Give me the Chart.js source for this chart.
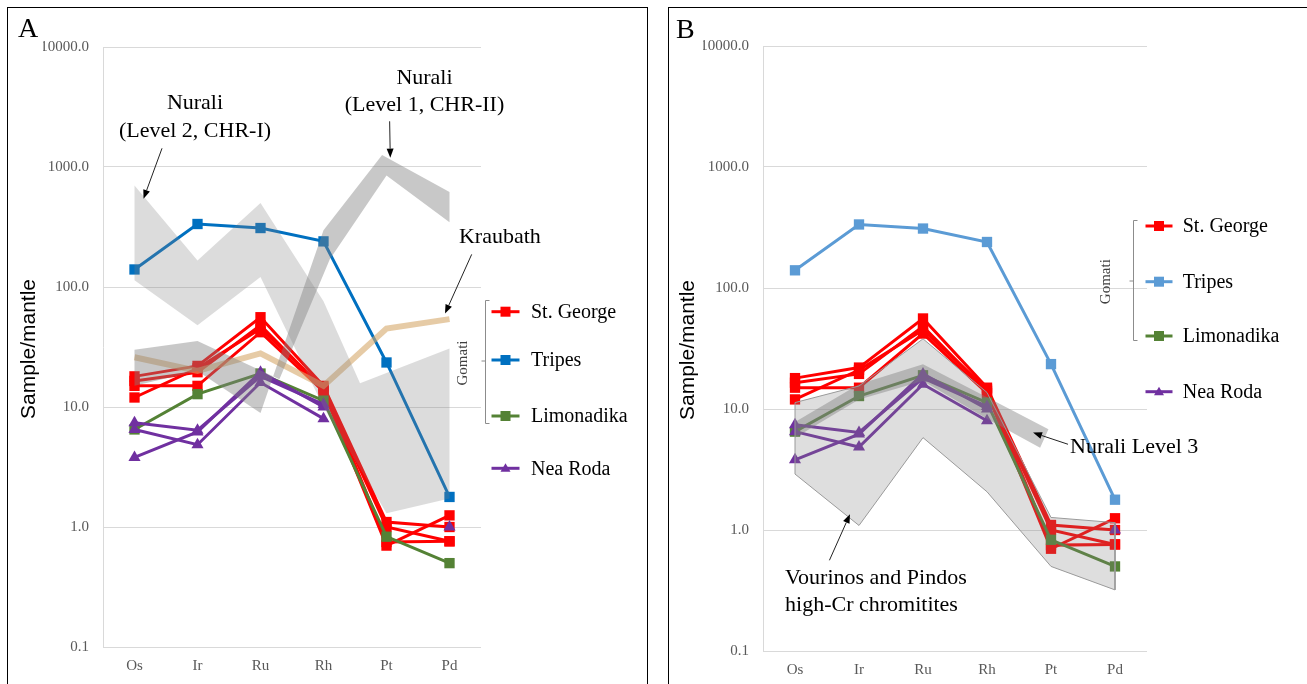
<!DOCTYPE html>
<html>
<head>
<meta charset="utf-8">
<script src="https://cdn.jsdelivr.net/npm/chart.js@4.4.1/dist/chart.umd.min.js"></script>
<style>
  html, body { margin: 0; padding: 0; background: #fff; overflow: hidden; }
  #wrap { position: relative; width: 1307px; height: 684px; }
  .frame { position: absolute; border: 1.5px solid #000; box-sizing: border-box; }
  canvas { position: absolute; top: 0; }
</style>
</head>
<body>
<div id="wrap">
  <div class="frame" style="left:7px; top:7px; width:641px; height:700px;"></div>
  <div class="frame" style="left:668px; top:7px; width:700px; height:700px;"></div>
  <canvas id="chartA" width="660" height="684" style="left:0"></canvas>
  <canvas id="chartB" width="647" height="684" style="left:660px"></canvas>
</div>
<script>
const elements = ['Os', 'Ir', 'Ru', 'Rh', 'Pt', 'Pd'];
const yTicks = [0.1, 1, 10, 100, 1000, 10000];

// Gomati samples (sample/mantle)
const stGeorge = [
    [18, 22, 56, 15, 1.1, 1.0],
    [16.5, 19.5, 48, 14, 1.0, 0.76],
    [15, 15, 42, 13.5, 0.7, 1.25],
    [12, 21, 45, 14.5, 0.75, 0.76]
];
const tripes = [140, 335, 310, 240, 23.5, 1.78];
const limonadika = [6.5, 12.8, 19, 11.3, 0.83, 0.5];
const neaRoda = [
    [7.4, 6.4, 18, 10.5, null, null],
    [6.5, 4.85, 16, 8, null, null],
    [3.8, 6.2, 19.5, 10, null, null],
    [null, null, null, null, null, 1.0]
];
const kraubath = [26, 20, 28, 15, 45, 54];

// reference fields, outline vertices as [element position, value]
const nuraliLevel2 = [[0, 700], [1, 166], [2, 500], [3, 76], [3.58, 15.8], [5, 30.7], [5, 1.73], [4, 1.3], [3, 10], [2, 121], [1, 48], [0, 114]];
const nuraliLevel1 = [[0, 30], [1, 35.5], [2.3, 17], [3.1, 170], [4, 850], [5, 347], [5, 620], [3.93, 1260], [3, 297], [2, 8.9], [1, 20], [0, 15]];
const vourinosPindos = [[0, 11.3], [1, 15.5], [2, 38], [3, 13.7], [4, 1.27], [5, 1.15], [5, 0.32], [4, 0.5], [3, 2.07], [2, 5.8], [1, 1.09], [0, 2.9]];
const nuraliLevel3 = [[0, 7.8], [1, 16], [2, 23.4], [3, 12.5], [3.96, 6.8], [3.83, 4.78], [3, 8.3], [2, 17], [1, 12], [0, 5.8]];

const SERIF = '"Liberation Serif", "Times New Roman", serif';
const SANS = '"Liberation Sans", Arial, sans-serif';

function seriesSet(label, values, color, style, order) {
    return {
        label,
        data: values.map((v, i) => (v == null ? null : { x: i, y: v })).filter(Boolean),
        borderColor: color,
        backgroundColor: color,
        pointBackgroundColor: color,
        pointBorderColor: color,
        pointBorderWidth: 0,
        borderWidth: 3,
        pointStyle: style,
        pointRadius: style === 'triangle' ? 7 : 7.3,
        fill: false,
        tension: 0,
        order
    };
}

function fieldSet(label, vertices, fillColor, edgeColor) {
    const pts = vertices.map(([x, y]) => ({ x, y }));
    pts.push({ x: vertices[0][0], y: vertices[0][1] });
    return {
        label,
        data: pts,
        fill: 'shape',
        backgroundColor: fillColor,
        borderColor: edgeColor || 'rgba(0,0,0,0)',
        borderWidth: edgeColor ? 1 : 0,
        pointRadius: 0,
        tension: 0,
        order: 0
    };
}

function drawArrow(ctx, x1, y1, x2, y2) {
    const ang = Math.atan2(y2 - y1, x2 - x1);
    const len = 9, half = 3.5;
    ctx.strokeStyle = '#222';
    ctx.fillStyle = '#000';
    ctx.lineWidth = 1;
    ctx.beginPath();
    ctx.moveTo(x1, y1);
    ctx.lineTo(x2 - Math.cos(ang) * len, y2 - Math.sin(ang) * len);
    ctx.stroke();
    ctx.beginPath();
    ctx.moveTo(x2, y2);
    ctx.lineTo(x2 - Math.cos(ang) * len - Math.sin(ang) * half, y2 - Math.sin(ang) * len + Math.cos(ang) * half);
    ctx.lineTo(x2 - Math.cos(ang) * len + Math.sin(ang) * half, y2 - Math.sin(ang) * len - Math.cos(ang) * half);
    ctx.closePath();
    ctx.fill();
}

const notesPlugin = {
    id: 'notes',
    afterDraw(chart, args, opts) {
        const { ctx } = chart;
        const xs = chart.scales.x, ys = chart.scales.y;
        ctx.save();

        // panel letter
        ctx.fillStyle = '#000';
        ctx.font = '28px ' + SERIF;
        ctx.textAlign = 'left';
        ctx.textBaseline = 'alphabetic';
        ctx.fillText(opts.letter, opts.letterPos[0], opts.letterPos[1]);

        // axis title
        ctx.save();
        ctx.translate(opts.titlePos[0], opts.titlePos[1]);
        ctx.rotate(-Math.PI / 2);
        ctx.font = '21px ' + SANS;
        ctx.textAlign = 'center';
        ctx.textBaseline = 'middle';
        ctx.fillText('Sample/mantle', 0, 0);
        ctx.restore();

        // annotations
        ctx.font = '22px ' + SERIF;
        ctx.textBaseline = 'middle';
        opts.notes.forEach(n => {
            ctx.textAlign = n.align || 'center';
            ctx.fillText(n.text, xs.getPixelForValue(n.x), ys.getPixelForValue(n.y));
        });
        opts.arrows.forEach(a => {
            drawArrow(ctx,
                xs.getPixelForValue(a[0][0]), ys.getPixelForValue(a[0][1]),
                xs.getPixelForValue(a[1][0]), ys.getPixelForValue(a[1][1]));
        });

        // legend with Gomati bracket
        const lg = opts.legend;
        ctx.strokeStyle = '#8c8c8c';
        ctx.lineWidth = 1;
        ctx.beginPath();
        ctx.moveTo(lg.bracketX + 4, lg.bracketTop);
        ctx.lineTo(lg.bracketX, lg.bracketTop);
        ctx.lineTo(lg.bracketX, lg.bracketBottom);
        ctx.lineTo(lg.bracketX + 4, lg.bracketBottom);
        ctx.moveTo(lg.bracketX, lg.bracketMid);
        ctx.lineTo(lg.bracketX - 4, lg.bracketMid);
        ctx.stroke();

        ctx.save();
        ctx.translate(lg.gomati[0], lg.gomati[1]);
        ctx.rotate(-Math.PI / 2);
        ctx.font = '15px ' + SERIF;
        ctx.fillStyle = '#404040';
        ctx.textAlign = 'center';
        ctx.textBaseline = 'middle';
        ctx.fillText('Gomati', 0, 0);
        ctx.restore();

        ctx.font = '20px ' + SERIF;
        ctx.textAlign = 'left';
        ctx.textBaseline = 'middle';
        lg.items.forEach((it, i) => {
            const y = lg.rows[i];
            ctx.strokeStyle = it.color;
            ctx.lineWidth = 3;
            ctx.beginPath();
            ctx.moveTo(lg.lineX[0], y);
            ctx.lineTo(lg.lineX[1], y);
            ctx.stroke();
            ctx.fillStyle = it.color;
            const mx = (lg.lineX[0] + lg.lineX[1]) / 2;
            if (it.style === 'triangle') {
                ctx.beginPath();
                ctx.moveTo(mx, y - 5);
                ctx.lineTo(mx + 5, y + 3.5);
                ctx.lineTo(mx - 5, y + 3.5);
                ctx.closePath();
                ctx.fill();
            } else {
                ctx.fillRect(mx - 5, y - 5, 10, 10);
            }
            ctx.fillStyle = '#000';
            ctx.fillText(it.label, lg.textX, y + 1);
        });
        ctx.restore();
    }
};

function makeChart(id, datasets, layout, notes) {
    return new Chart(document.getElementById(id), {
        type: 'line',
        data: { datasets },
        options: {
            responsive: false,
            animation: false,
            devicePixelRatio: 1,
            layout: { padding: layout.padding },
            scales: {
                x: {
                    type: 'linear',
                    min: -0.5,
                    max: 5.5,
                    afterBuildTicks: s => { s.ticks = elements.map((e, i) => ({ value: i })); },
                    afterFit: s => { s.height = layout.xHeight; },
                    ticks: {
                        color: '#595959',
                        font: { family: SERIF, size: 15 },
                        padding: 10,
                        autoSkip: false,
                        maxRotation: 0,
                        callback: v => elements[v] ?? ''
                    },
                    grid: { display: false, drawTicks: false },
                    border: { display: false }
                },
                y: {
                    type: 'logarithmic',
                    min: 0.1,
                    max: 10000,
                    afterBuildTicks: s => { s.ticks = yTicks.map(v => ({ value: v })); },
                    afterFit: s => { s.width = 60; },
                    ticks: {
                        color: '#595959',
                        font: { family: SERIF, size: 15 },
                        padding: 14,
                        callback: v => Number(v).toFixed(1)
                    },
                    grid: { color: '#d9d9d9', drawTicks: false },
                    border: { display: true, color: '#d9d9d9' }
                }
            },
            plugins: {
                legend: { display: false },
                tooltip: { enabled: false },
                notes
            }
        },
        plugins: [notesPlugin]
    });
}

function sampleSets(tripesColor, withKraubath) {
    const sets = [];
    neaRoda.forEach((row, i) => sets.push(seriesSet('Nea Roda ' + (i + 1), row, '#7030a0', 'triangle', 2)));
    sets.push(seriesSet('Limonadika', limonadika, '#548235', 'rect', 3));
    sets.push(seriesSet('Tripes', tripes, tripesColor, 'rect', 4));
    stGeorge.forEach((row, i) => sets.push(seriesSet('St. George ' + (i + 1), row, '#ff0000', 'rect', 5)));
    if (withKraubath) {
        const k = seriesSet('Kraubath', kraubath, 'rgba(213,168,107,0.6)', 'circle', 1);
        k.pointRadius = 0;
        k.borderWidth = 6;
        sets.push(k);
    }
    return sets;
}

const legendItems = (tripesColor) => [
    { label: 'St. George', color: '#ff0000', style: 'rect' },
    { label: 'Tripes', color: tripesColor, style: 'rect' },
    { label: 'Limonadika', color: '#548235', style: 'rect' },
    { label: 'Nea Roda', color: '#7030a0', style: 'triangle' }
];

// Panel A
makeChart('chartA',
    [
        fieldSet('Nurali Level 2 (CHR-I)', nuraliLevel2, 'rgba(128,128,128,0.28)'),
        fieldSet('Nurali Level 1 (CHR-II)', nuraliLevel1, 'rgba(128,128,128,0.43)'),
        ...sampleSets('#0070c0', true)
    ],
    { padding: { left: 43, right: 179, top: 47, bottom: 0 }, xHeight: 37 },
    {
        letter: 'A',
        letterPos: [18, 37],
        titlePos: [29, 349],
        notes: [
            { text: 'Nurali', x: 0.96, y: 3396 },
            { text: '(Level 2, CHR-I)', x: 0.96, y: 1984 },
            { text: 'Nurali', x: 4.603, y: 5483 },
            { text: '(Level 1, CHR-II)', x: 4.603, y: 3266 },
            { text: 'Kraubath', x: 5.80, y: 259 }
        ],
        arrows: [
            [[0.437, 1432], [0.143, 543]],
            [[4.05, 2404], [4.06, 1197]],
            [[5.352, 187], [4.929, 60]]
        ],
        legend: {
            bracketX: 485.5, bracketTop: 300.5, bracketBottom: 423.5, bracketMid: 361,
            gomati: [463, 363],
            lineX: [491.5, 519.5],
            textX: 531,
            rows: [311.7, 360, 416, 468.3],
            items: legendItems('#0070c0')
        }
    });

// Panel B
makeChart('chartB',
    [
        fieldSet('Vourinos and Pindos', vourinosPindos, 'rgba(128,128,128,0.26)', '#9a9a9a'),
        fieldSet('Nurali Level 3', nuraliLevel3, 'rgba(128,128,128,0.43)'),
        ...sampleSets('#5b9bd5', false)
    ],
    { padding: { left: 43, right: 160, top: 46, bottom: 0 }, xHeight: 33 },
    {
        letter: 'B',
        letterPos: [16, 38],
        titlePos: [28, 350],
        notes: [
            { text: 'Nurali Level 3', x: 4.297, y: 4.86, align: 'left' },
            { text: 'Vourinos and Pindos', x: -0.156, y: 0.402, align: 'left' },
            { text: 'high-Cr chromitites', x: -0.156, y: 0.239, align: 'left' }
        ],
        arrows: [
            [[4.266, 5.11], [3.719, 6.38]],
            [[0.538, 0.562], [0.859, 1.35]]
        ],
        legend: {
            bracketX: 473.5, bracketTop: 220.5, bracketBottom: 340.5, bracketMid: 281,
            gomati: [446, 281.7],
            lineX: [485.5, 512.5],
            textX: 522.7,
            rows: [226, 281.7, 336, 391.7],
            items: legendItems('#5b9bd5')
        }
    });
</script>
</body>
</html>
